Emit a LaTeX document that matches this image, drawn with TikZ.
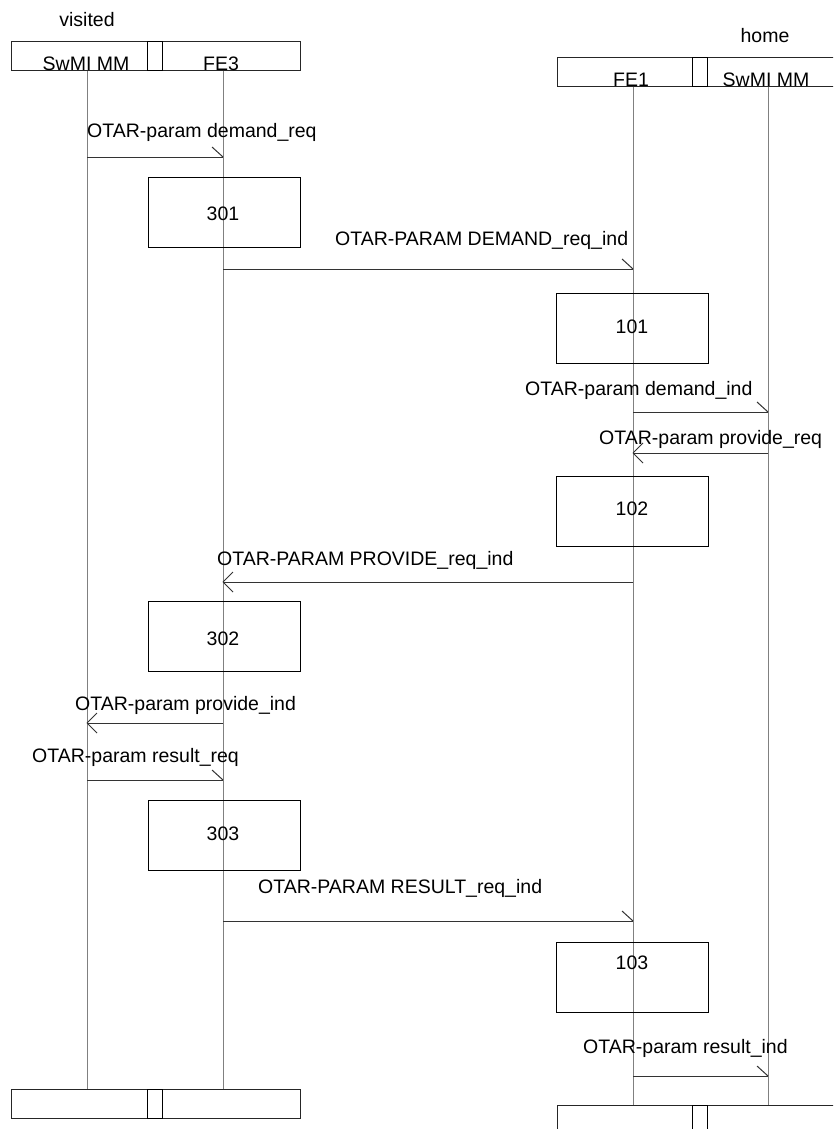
\documentclass[tikz,border=0pt]{standalone}
\usepackage{fontspec}
\setmainfont{Liberation Sans}
\begin{document}
\begin{tikzpicture}[x=1pt,y=-1pt,
 every node/.style={font=\fontsize{19.5}{23}\selectfont},
 frame/.style={draw=black!85, line width=1pt, minimum width=289pt, minimum height=29pt, inner sep=0pt},
 sepbox/.style={draw=black, line width=1pt, minimum width=15pt, minimum height=29pt, inner sep=0pt},
 action/.style={draw=black, line width=1pt, minimum width=152pt, minimum height=70pt, inner sep=0pt},
 life/.style={draw=black!50, line width=1pt},
 msg/.style={draw=black!80, line width=1pt},
 lbl/.style={inner sep=0pt, anchor=base west},
 txt/.style={inner sep=0pt, anchor=base}]
\clip (0,0) rectangle (833,1129);
\fill[white] (0,0) rectangle (833,1129);

% headers and footers
\node[frame] (vhead) at (155.5,56.5) {};
\node[sepbox] (vhsep) at (155,56.5) {};
\node[frame] (hhead) at (701.5,72.5) {};
\node[sepbox] (hhsep) at (700,72.5) {};
\node[frame] (vfoot) at (155.5,1103.5) {};
\node[sepbox] (vfsep) at (155,1103.5) {};
\node[frame] (hfoot) at (701.5,1119.5) {};
\node[sepbox] (hfsep) at (700,1119.5) {};

\node[txt] (vis) at (87,27) {visited};
\node[txt] (hom) at (765,43) {home};
\node[txt] (nA) at (86,71) {SwMI MM};
\node[txt] (nB) at (221,71) {FE3};
\node[txt] (nC) at (631,87) {FE1};
\node[txt] (nD) at (766,87) {SwMI MM};

% lifeline x positions
\coordinate (xA) at (87,0);
\coordinate (xB) at (223,0);
\coordinate (xC) at (633,0);
\coordinate (xD) at (768,0);

\draw[life] (vhead.south -| xA) -- (vfoot.north -| xA);
\draw[life] (vhead.south -| xB) -- (vfoot.north -| xB);
\draw[life] (hhead.south -| xC) -- (hfoot.north -| xC);
\draw[life] (hhead.south -| xD) -- (hfoot.north -| xD);

% action boxes
\node[action] (b301) at (224,212) {};
\node[action] (b101) at (632.5,328) {};
\node[action] (b102) at (632.5,511) {};
\node[action] (b302) at (224,636) {};
\node[action] (b303) at (224,835) {};
\node[action] (b103) at (632.5,977) {};
\node[txt] (t301) at (223,220) {301};
\node[txt] (t101) at (632,333) {101};
\node[txt] (t102) at (632,515) {102};
\node[txt] (t302) at (223,645) {302};
\node[txt] (t303) at (223,840) {303};
\node[txt] (t103) at (632,969) {103};

% message end points
\coordinate (m1a) at (87,157);  \coordinate (m1b) at (223,157);
\coordinate (m2a) at (223,269); \coordinate (m2b) at (633,269);
\coordinate (m3a) at (633,412); \coordinate (m3b) at (768,412);
\coordinate (m4a) at (768,453); \coordinate (m4b) at (633,453);
\coordinate (m5a) at (633,582); \coordinate (m5b) at (223,582);
\coordinate (m6a) at (223,723); \coordinate (m6b) at (87,723);
\coordinate (m7a) at (87,780);  \coordinate (m7b) at (223,780);
\coordinate (m8a) at (223,921); \coordinate (m8b) at (633,921);
\coordinate (m9a) at (633,1076); \coordinate (m9b) at (768,1076);

% rightward messages (half barb)
\foreach \m in {m1,m2,m3,m7,m8,m9}{
  \draw[msg] (\m a) -- (\m b);
  \draw[msg] (\m b) -- ++(-11,-10);
}
% leftward messages (open V)
\foreach \m in {m4,m5,m6}{
  \draw[msg] (\m a) -- (\m b);
  \draw[msg] (\m b) -- ++(10,-10) (\m b) -- ++(10,10);
}

% labels
\node[lbl] (l1) at (87,137) {OTAR-param demand\_req};
\node[lbl] (l2) at (335,245) {OTAR-PARAM DEMAND\_req\_ind};
\node[lbl] (l3) at (525,395) {OTAR-param demand\_ind};
\node[lbl] (l4) at (599,444) {OTAR-param provide\_req};
\node[lbl] (l5) at (217,565) {OTAR-PARAM PROVIDE\_req\_ind};
\node[lbl] (l6) at (75,710) {OTAR-param provide\_ind};
\node[lbl] (l7) at (32,762) {OTAR-param result\_req};
\node[lbl] (l8) at (258,893) {OTAR-PARAM RESULT\_req\_ind};
\node[lbl] (l9) at (583,1053) {OTAR-param result\_ind};
\end{tikzpicture}
\end{document}
